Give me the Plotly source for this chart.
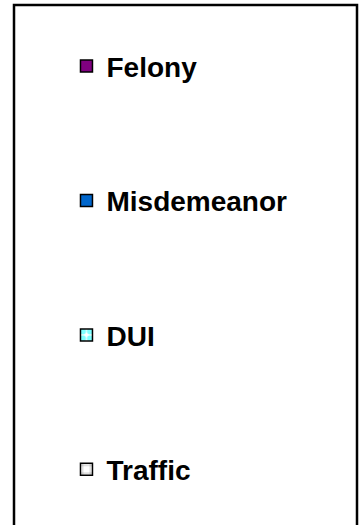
import plotly.graph_objects as go

categories = ["Felony", "Misdemeanor", "DUI", "Traffic"]
values = [0, 0, 0, 0]  # no bars are visible in the reference; legend only
colors = ["#800080", "#0066CC", "#FFFFFF", "#FFFFFF"]
pattern_shapes = ["", "", ".", "+"]
pattern_fg = ["#800080", "#0066CC", "#00FFFF", "#000000"]
pattern_size = [6, 6, 9, 10]
pattern_solid = [0.4, 0.4, 0.6, 0.12]

fig = go.Figure()
for name, val, col, shp, fg, ps, so in zip(categories, values, colors, pattern_shapes,
                                          pattern_fg, pattern_size, pattern_solid):
    fig.add_trace(go.Bar(
        x=[name], y=[val], name=name, legendgroup=name,
        marker=dict(color=col, line=dict(color="black", width=1.5),
                    pattern=dict(shape=shp, fgcolor=fg, bgcolor=col, size=ps, solidity=so)),
    ))

fig.update_layout(
    width=360, height=525,
    margin=dict(l=14, r=3, t=5, b=0),
    paper_bgcolor="white", plot_bgcolor="white",
    xaxis=dict(visible=False), yaxis=dict(visible=False, range=[1, 2]),
    showlegend=True,
    legend=dict(
        x=0.153, y=0.93, xanchor="left", yanchor="top",
        font=dict(family="Arial, Liberation Sans", size=28, color="black", weight="bold"),
        tracegroupgap=95, bgcolor="rgba(0,0,0,0)",
        itemclick=False, itemdoubleclick=False,
    ),
    shapes=[dict(type="rect", xref="paper", yref="paper", x0=0, x1=1, y0=-0.1, y1=1,
                 line=dict(color="black", width=2.5))],
)
fig.write_html("out.html", config={"displayModeBar": False},
               post_script="document.body.style.margin='0';")
